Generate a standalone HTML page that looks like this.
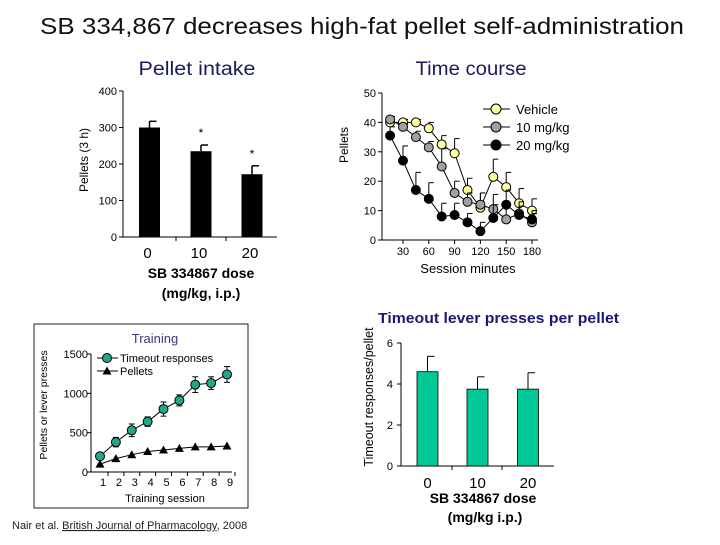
<!DOCTYPE html>
<html><head><meta charset="utf-8"><style>
body{margin:0;background:#fff;width:720px;height:540px;overflow:hidden;font-family:"Liberation Sans",sans-serif}
</style></head><body>
<svg id="s" width="720" height="540" xmlns="http://www.w3.org/2000/svg" font-family="Liberation Sans, sans-serif">
<text x="362" y="34" font-size="23" text-anchor="middle" fill="#111" textLength="644" lengthAdjust="spacingAndGlyphs">SB 334,867 decreases high-fat pellet self-administration</text>
<text x="197" y="75" font-size="19" text-anchor="middle" fill="#1a1a5e" textLength="117" lengthAdjust="spacingAndGlyphs">Pellet intake</text>
<text x="471" y="75" font-size="19" text-anchor="middle" fill="#1a1a5e" textLength="111" lengthAdjust="spacingAndGlyphs">Time course</text>
<rect x="34" y="324" width="214" height="184" fill="none" stroke="#222" stroke-width="1"/>
<text x="155" y="343" font-size="13" text-anchor="middle" fill="#3a3a7a">Training</text>
<text x="378" y="323" font-size="14.5" font-weight="bold" fill="#1a1a6e" textLength="241" lengthAdjust="spacingAndGlyphs">Timeout lever presses per pellet</text>
<text x="12" y="529" font-size="11" fill="#222">Nair et al. <tspan text-decoration="underline">British Journal of Pharmacology</tspan>, 2008</text>
<g id="g"></g>
</svg>
<script>
// Panel A: pellet intake
const doseCats=["0","10","20"];
const intakeVals=[300,235,172];
const intakeErr=[17,17,23];
const intakeTicks=[0,100,200,300,400];
// Panel B: time course
const timeMins=[15,30,45,60,75,90,105,120,135,150,165,180];
const vehVals=[40,40,40,38,32.5,29.5,17,11,21.5,18,12.5,10];
const vehErr=[1,1,1,2,3,5,4,5,6,5,5,4];
const tenVals=[41,38.5,35,31.5,25,16,13,12,10.5,7,9,6];
const tenErr=[1,1,2,2,6,4,3,4,5,5,4,3];
const twentyVals=[35.5,27,17,14,8,8.5,6,3,7.5,12,8.5,7];
const twentyErr=[3,5,6,5.5,4.5,4,3,3,4.5,5,3,3];
const timeYTicks=[0,10,20,30,40,50];
const timeXTicks=[30,60,90,120,150,180];
// Panel C: training
const sessions=[1,2,3,4,5,6,7,8,9];
const timeoutVals=[200,380,530,640,800,910,1110,1130,1240];
const timeoutErr=[30,60,80,60,90,70,100,80,100];
const pelletVals=[100,170,220,260,280,300,320,320,330];
const trainTicks=[0,500,1000,1500];
// Panel D: timeout per pellet
const ratioVals=[4.6,3.75,3.75];
const ratioErr=[0.75,0.6,0.8];
const ratioTicks=[0,2,4,6];

const NS="http://www.w3.org/2000/svg";
const G=document.getElementById('g');
function mk(t,a,txt){const e=document.createElementNS(NS,t);for(const k in a)e.setAttribute(k,a[k]);if(txt!==undefined)e.textContent=txt;G.appendChild(e);return e;}
function lin(d0,d1,r0,r1){return v=>r0+(v-d0)*(r1-r0)/(d1-d0);}

// ---- Panel A
{const y=lin(0,400,237,91);const ax=123;
let e=mk('line',{x1:ax,y1:91,x2:ax,y2:237,stroke:'#000'});

e=mk('line',{x1:ax,y1:237,x2:277,y2:237,stroke:'#000'});

intakeTicks.forEach(t=>{mk('line',{x1:ax-4,y1:y(t),x2:ax,y2:y(t),stroke:'#000'});
e=mk('text',{x:ax-6,y:y(t)+4,'font-size':11,'text-anchor':'end'},t);
});
[176,226].forEach(x=>mk('line',{x1:x,y1:237,x2:x,y2:241,stroke:'#000'}));
const cx=[149.5,201,252];
doseCats.forEach((c,i)=>{
e=mk('rect',{x:cx[i]-10.5,y:y(intakeVals[i]),width:21,height:237-y(intakeVals[i]),fill:'#000'});

const ye=y(intakeVals[i]+intakeErr[i]);
mk('line',{x1:cx[i],y1:y(intakeVals[i]),x2:cx[i],y2:ye,stroke:'#000','stroke-width':1.5});
mk('line',{x1:cx[i],y1:ye,x2:cx[i]+7,y2:ye,stroke:'#000','stroke-width':1.5});
if(i>0){mk('text',{x:cx[i],y:ye-8,'font-size':12,'text-anchor':'middle'},'*');}
e=mk('text',{x:cx[i]-2,y:258,'font-size':15,'text-anchor':'middle'},c);
});
e=mk('text',{x:201,y:278,'font-size':14,'font-weight':'bold','text-anchor':'middle'},'SB 334867 dose');

mk('text',{x:201,y:298,'font-size':14,'font-weight':'bold','text-anchor':'middle'},'(mg/kg, i.p.)');
e=mk('text',{x:0,y:0,'font-size':12,'text-anchor':'middle',transform:'translate(88,160) rotate(-90)'},'Pellets (3 h)');
}

// ---- Panel B
{const y=lin(0,50,240,93);const x=lin(30,180,403,532);const ax=382;
mk('line',{x1:ax,y1:93,x2:ax,y2:240,stroke:'#000'});
mk('line',{x1:ax,y1:240,x2:538,y2:240,stroke:'#000'});
timeYTicks.forEach(t=>{mk('line',{x1:ax-4,y1:y(t),x2:ax,y2:y(t),stroke:'#000'});
const e=mk('text',{x:ax-6,y:y(t)+4,'font-size':11,'text-anchor':'end'},t);
});
timeXTicks.forEach(t=>{mk('line',{x1:x(t),y1:240,x2:x(t),y2:244,stroke:'#000'});
const e=mk('text',{x:x(t),y:255,'font-size':11,'text-anchor':'middle'},t);
});
let e=mk('text',{x:468,y:273,'font-size':13,'text-anchor':'middle'},'Session minutes');

e=mk('text',{x:0,y:0,'font-size':12,'text-anchor':'middle',transform:'translate(348,145) rotate(-90)'},'Pellets');

const series=[[vehVals,vehErr,'#ffff99','vehicle'],[tenVals,tenErr,'#a0a0a0','10mg'],[twentyVals,twentyErr,'#000','20mg']];
series.forEach(([v,er,col,nm])=>{
const pts=v.map((d,i)=>x(timeMins[i])+','+y(d)).join(' ');
e=mk('polyline',{points:pts,fill:'none',stroke:'#000'});

v.forEach((d,i)=>{const px=x(timeMins[i]),ye=y(d+er[i]);
mk('line',{x1:px,y1:y(d),x2:px,y2:ye,stroke:'#000'});mk('line',{x1:px,y1:ye,x2:px+5,y2:ye,stroke:'#000'});});
v.forEach((d,i)=>{const c=mk('circle',{cx:x(timeMins[i]),cy:y(d),r:4.5,fill:col,stroke:'#000'});
});});
const leg=[['Vehicle','#ffff99',109],['10 mg/kg','#a0a0a0',127],['20 mg/kg','#000',145]];
leg.forEach(([t,c,ly])=>{mk('line',{x1:483,y1:ly,x2:510,y2:ly,stroke:'#000'});
mk('circle',{cx:496,cy:ly,r:5,fill:c,stroke:'#000'});
const l=mk('text',{x:516,y:ly+5,'font-size':13},t);
});}

// ---- Panel C
{const y=lin(0,1500,472,354);const x=lin(1,9,100,227);const ax=91;
mk('line',{x1:ax,y1:354,x2:ax,y2:472,stroke:'#000'});
mk('line',{x1:ax,y1:472,x2:232,y2:472,stroke:'#000'});
trainTicks.forEach(t=>{mk('line',{x1:ax-4,y1:y(t),x2:ax,y2:y(t),stroke:'#000'});
const e=mk('text',{x:ax-3,y:y(t)+4,'font-size':11,'text-anchor':'end'},t);
});
sessions.forEach(s=>{mk('line',{x1:x(s)+8,y1:472,x2:x(s)+8,y2:476,stroke:'#000'});
const e=mk('text',{x:x(s)+3,y:486,'font-size':11,'text-anchor':'middle'},s);
});
let e=mk('text',{x:165,y:502,'font-size':11,'text-anchor':'middle'},'Training session');

e=mk('text',{x:0,y:0,'font-size':10.5,'text-anchor':'middle',transform:'translate(47,405) rotate(-90)'},'Pellets or lever presses');

e=mk('polyline',{points:pelletVals.map((d,i)=>x(sessions[i])+','+y(d)).join(' '),fill:'none',stroke:'#000'});

pelletVals.forEach((d,i)=>{const px=x(sessions[i]),py=y(d);
const p=mk('polygon',{points:`${px-4.5},${py+3.5} ${px+4.5},${py+3.5} ${px},${py-4.5}`,fill:'#000'});
});
e=mk('polyline',{points:timeoutVals.map((d,i)=>x(sessions[i])+','+y(d)).join(' '),fill:'none',stroke:'#000'});

timeoutVals.forEach((d,i)=>{const px=x(sessions[i]);
mk('line',{x1:px,y1:y(d-timeoutErr[i]),x2:px,y2:y(d+timeoutErr[i]),stroke:'#000'});
mk('line',{x1:px-3,y1:y(d+timeoutErr[i]),x2:px+3,y2:y(d+timeoutErr[i]),stroke:'#000'});
mk('line',{x1:px-3,y1:y(d-timeoutErr[i]),x2:px+3,y2:y(d-timeoutErr[i]),stroke:'#000'});
const c=mk('circle',{cx:px,cy:y(d),r:4.5,fill:'#1fa88a',stroke:'#000'});
});
mk('line',{x1:97,y1:358,x2:118,y2:358,stroke:'#000'});
mk('circle',{cx:107,cy:358,r:4.5,fill:'#1fa88a',stroke:'#000'});
e=mk('text',{x:120,y:362,'font-size':11},'Timeout responses');

mk('line',{x1:97,y1:371,x2:118,y2:371,stroke:'#000'});
mk('polygon',{points:'102.5,374.5 111.5,374.5 107,366.5',fill:'#000'});
e=mk('text',{x:120,y:375,'font-size':11},'Pellets');
}

// ---- Panel D
{const y=lin(0,6,466,343);const ax=401;
mk('line',{x1:ax,y1:343,x2:ax,y2:466,stroke:'#000'});
mk('line',{x1:ax,y1:466,x2:554,y2:466,stroke:'#000'});
ratioTicks.forEach(t=>{mk('line',{x1:ax-4,y1:y(t),x2:ax,y2:y(t),stroke:'#000'});
const e=mk('text',{x:ax-8,y:y(t)+4,'font-size':11,'text-anchor':'end'},t);
});
[452,502].forEach(x=>mk('line',{x1:x,y1:466,x2:x,y2:470,stroke:'#000'}));
const cx=[427.5,477.5,528];
doseCats.forEach((c,i)=>{
let e=mk('rect',{x:cx[i]-10.5,y:y(ratioVals[i]),width:21,height:466-y(ratioVals[i]),fill:'#00c896',stroke:'#000','stroke-width':0.8});

const ye=y(ratioVals[i]+ratioErr[i]);
mk('line',{x1:cx[i],y1:y(ratioVals[i]),x2:cx[i],y2:ye,stroke:'#000'});
mk('line',{x1:cx[i],y1:ye,x2:cx[i]+7,y2:ye,stroke:'#000'});
e=mk('text',{x:cx[i],y:488,'font-size':15,'text-anchor':'middle'},c);
});
let e=mk('text',{x:483,y:503,'font-size':14,'font-weight':'bold','text-anchor':'middle'},'SB 334867 dose');

mk('text',{x:485,y:522,'font-size':14,'font-weight':'bold','text-anchor':'middle'},'(mg/kg i.p.)');
e=mk('text',{x:0,y:0,'font-size':12.5,'text-anchor':'middle',transform:'translate(373,397) rotate(-90)'},'Timeout responses/pellet');
}
</script>
</body></html>
